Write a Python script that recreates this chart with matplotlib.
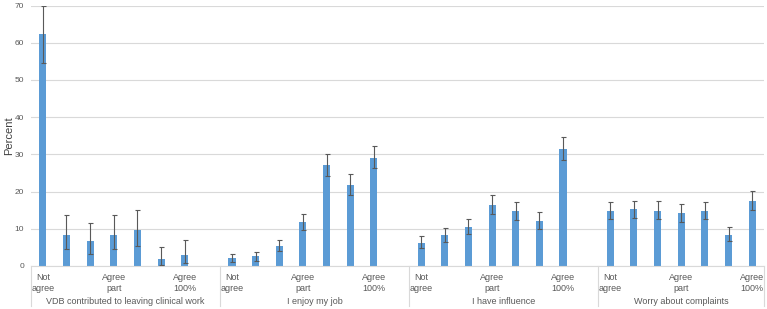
import numpy as np
import matplotlib.pyplot as plt
from matplotlib.transforms import blended_transform_factory

plt.rcParams['font.family'] = ['Liberation Sans', 'DejaVu Sans']

groups = ["VDB contributed to leaving clinical work", "I enjoy my job",
          "I have influence", "Worry about complaints"]
tick_text = ["Not\nagree", "", "", "Agree\npart", "", "", "Agree\n100%"]

# percent, lower and upper end of the error bar, per group
vals = [[62.3, 8.4, 6.6, 8.4, 9.7, 1.8, 3.0],
        [2.1, 2.6, 5.5, 11.8, 27.2, 21.8, 29.1],
        [6.3, 8.2, 10.5, 16.4, 14.7, 12.2, 31.5],
        [14.9, 15.2, 14.9, 14.2, 14.8, 8.4, 17.6]]
lows = [[54.5, 4.7, 3.3, 4.7, 5.4, 0.4, 0.9],
        [1.2, 1.3, 4.0, 9.7, 24.2, 19.0, 26.3],
        [4.9, 6.4, 8.7, 13.9, 12.4, 10.0, 28.5],
        [12.6, 12.9, 12.6, 11.9, 12.5, 6.8, 15.1]]
highs = [[69.8, 13.8, 11.6, 13.8, 15.0, 5.2, 7.0],
         [3.3, 3.8, 7.1, 14.0, 30.1, 24.6, 32.3],
         [8.1, 10.2, 12.7, 19.0, 17.2, 14.5, 34.7],
         [17.2, 17.6, 17.4, 16.6, 17.2, 10.4, 20.2]]

fig = plt.figure(figsize=(7.67, 3.09), dpi=100)
ax = fig.add_axes([31/767, 43/309, 733/767, 260.5/309])

grey = '#595959'
xs, ys, lo, hi, labels = [], [], [], [], []
for g in range(len(groups)):
    for i in range(7):
        xs.append(g*8 + i)
        ys.append(vals[g][i])
        lo.append(vals[g][i] - lows[g][i])
        hi.append(highs[g][i] - vals[g][i])
        labels.append(tick_text[i])

ax.bar(xs, ys, width=0.3, color='#5B9BD5', zorder=2)
ax.errorbar(xs, ys, yerr=[lo, hi], fmt='none', ecolor=grey, elinewidth=0.8,
            capsize=1.8, capthick=0.8, zorder=3)

ax.set_xlim(-0.5, 30.5)
ax.set_ylim(0, 70)
ax.set_yticks(range(0, 71, 10))
ax.set_xticks(xs)
ax.set_xticklabels(labels, fontsize=6.5, color=grey, linespacing=1.35)
ax.tick_params(axis='x', length=0, pad=5)
ax.tick_params(axis='y', length=0, labelsize=6, labelcolor=grey, pad=5)
ax.grid(axis='y', color='#D9D9D9', linewidth=0.8, zorder=0)
for s in ['left', 'right', 'top']:
    ax.spines[s].set_visible(False)
ax.spines['bottom'].set_color('#D9D9D9')
ax.set_ylabel('Percent', fontsize=8, color='#404040')
ax.yaxis.set_label_coords(-0.023, 0.5)

# group labels and separators under the axis
tr = blended_transform_factory(ax.transData, ax.transAxes)
for b in [-0.5, 7.5, 15.5, 23.5, 30.5]:
    ax.plot([b, b], [0, -0.155], transform=tr, color='#D9D9D9', lw=0.8,
            clip_on=False)
for g, name in enumerate(groups):
    end = min(g*8 + 7.5, 30.5)
    ax.text((g*8 - 0.5 + end) / 2, -0.135, name, transform=tr, ha='center',
            va='center', fontsize=6.5, color=grey)

fig.savefig('out.png', dpi=100)
